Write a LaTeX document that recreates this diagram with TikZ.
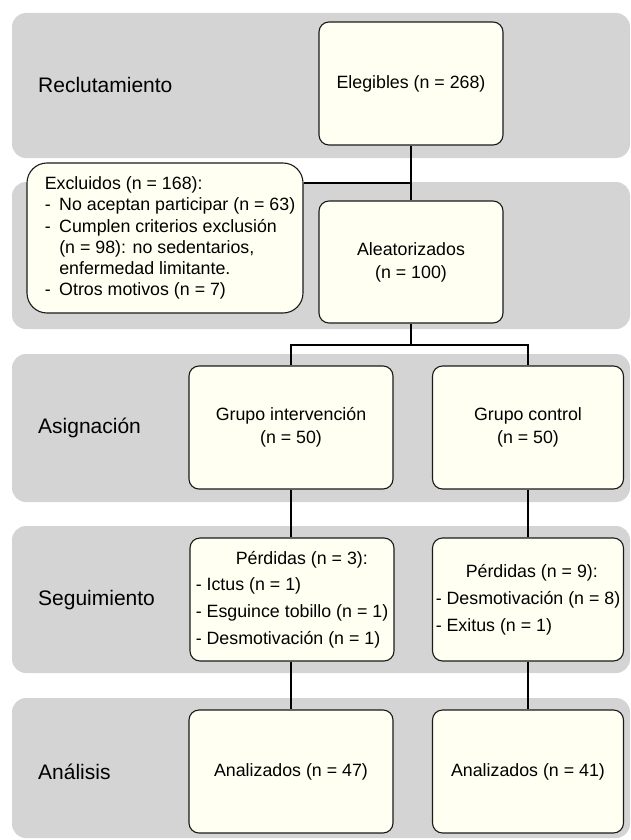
\documentclass[tikz,border=0pt]{standalone}
\usepackage{fontspec}
\setmainfont{Liberation Sans}
\definecolor{bandgray}{HTML}{D4D4D4}
\definecolor{boxfill}{HTML}{FFFFF2}
\definecolor{boxborder}{HTML}{1A1A1A}
\newcommand{\boxfont}{\fontsize{17.8}{22.8}\selectfont}
\newcommand{\labfont}{\fontsize{21}{25}\selectfont}
\newcommand{\pad}{\hspace*{10pt}}
\newcommand{\dashitem}{\pad\makebox[14.5pt][l]{-}}
\newcommand{\contitem}{\pad\hspace*{14.5pt}}
\begin{document}
\begin{tikzpicture}[x=1pt,y=-1pt,
  band/.style={fill=bandgray,rounded corners=14pt},
  box/.style={draw=boxborder,line width=1.1pt,fill=boxfill,rounded corners=10pt,inner sep=0pt,font=\boxfont,align=center},
  bigbox/.style={box,minimum width=184pt,minimum height=123pt},
  leftbox/.style={box,minimum width=204pt,minimum height=123pt},
  rightbox/.style={box,minimum width=191pt,minimum height=123pt},
  lab/.style={anchor=west,inner sep=0pt,font=\labfont},
  conn/.style={draw=black,line width=1.6pt}]
\useasboundingbox (0,0) rectangle (630,840);
% bands
\fill[band] (12,13) rectangle (630,158);
\fill[band] (12,182) rectangle (630,329);
\fill[band] (12,354) rectangle (630,502);
\fill[band] (12,526) rectangle (630,673);
\fill[band] (12,698) rectangle (630,838);
% stage labels
\node[lab] (lrec) at (38,85) {Reclutamiento};
\node[lab] (lasi) at (38,428) {Asignación};
\node[lab] (lseg) at (38,600) {Seguimiento};
\node[lab] (lana) at (38,772) {Análisis};
% boxes
\node[bigbox] (eleg) at (411,83.5) {Elegibles (n = 268)};
\node[bigbox,minimum height=122pt] (alea) at (411,262) {Aleatorizados\\(n = 100)};
\node[box,rounded corners=20pt,minimum width=276pt,minimum height=150pt,align=left,
      font={\fontsize{17.8}{21.1}\selectfont}] (excl) at (165,238)
  {\pad Excluidos (n = 168):\\
   \dashitem No aceptan participar (n = 63)\\
   \dashitem Cumplen criterios exclusión\\
   \contitem (n = 98): no sedentarios,\\
   \contitem enfermedad limitante.\\
   \dashitem Otros motivos (n = 7)};
\node[leftbox] (gint) at (291,427.5) {Grupo intervención\\(n = 50)};
\node[rightbox] (gctl) at (528,427.5) {Grupo control\\(n = 50)};
\node[leftbox,align=left,font={\fontsize{17.8}{26.8}\selectfont}] (pint) at (292,599.5)
  {\hspace*{40pt}Pérdidas (n = 3):\\
   - Ictus (n = 1)\\
   - Esguince tobillo (n = 1)\\
   - Desmotivación (n = 1)};
\node[rightbox,align=left,font={\fontsize{17.8}{26.8}\selectfont}] (pctl) at (528,599.5)
  {\hspace*{30pt}Pérdidas (n = 9):\\
   - Desmotivación (n = 8)\\
   - Exitus (n = 1)};
\node[leftbox] (aint) at (291,771.5) {Analizados (n = 47)};
\node[rightbox] (actl) at (528,771.5) {Analizados (n = 41)};
% connectors
\coordinate (jx) at (411,183);
\coordinate (br) at (411,345);
\draw[conn] (eleg) -- (alea);
\draw[conn] (excl.east |- jx) -- (jx);
\draw[conn] (alea) -- (br);
\draw[conn] (gint.north) |- (br) -| (gctl.north);
\draw[conn] (gint) -- (pint.north -| gint);
\draw[conn] (pint.south -| aint) -- (aint);
\draw[conn] (gctl) -- (pctl);
\draw[conn] (pctl) -- (actl);
\end{tikzpicture}
\end{document}
